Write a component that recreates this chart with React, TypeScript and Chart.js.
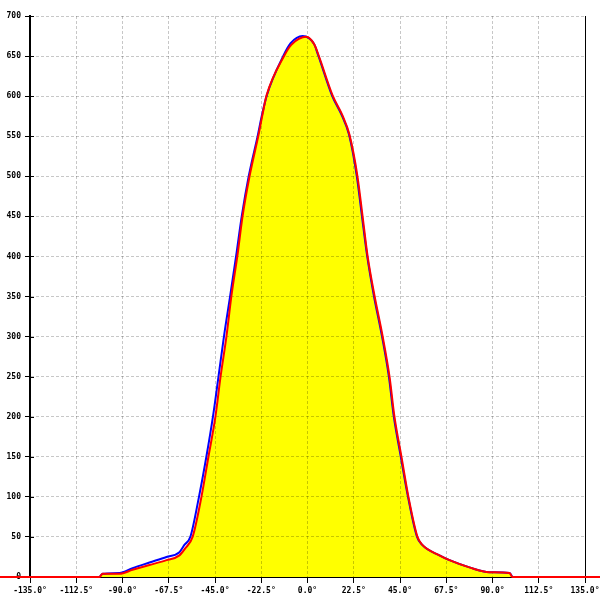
import React, { useEffect, useRef } from "react";
import { Chart, registerables } from "chart.js";

Chart.register(...registerables);

// Red series (angle in degrees, value)
const redAngles = [-150, -101.2, -99.7, -91.5, -85.1, -76.9, -68.6, -62.3, -59.4, -55.9, -51.6, -48.2, -44.8, -42.3, -39.4, -37.0, -34.1, -31.6, -28.2, -23.8, -21.9, -19.9, -11.2, -7.9, -0.5, 3.4, 5.4, 12.2, 17.0, 20.4, 24.3, 26.8, 29.2, 32.6, 36.5, 39.9, 42.3, 45.7, 49.1, 53.5, 55.9, 64.2, 69.1, 78.8, 88.5, 98.3, 99.7, 150];
const redValues = [0, 0, 4, 4, 9, 15, 21, 27, 36, 50, 100, 150, 200, 250, 301, 351, 401, 450, 500, 552, 577, 601, 651, 664, 674, 664, 651, 601, 576, 552, 500, 450, 401, 351, 301, 250, 200, 150, 100, 50, 40, 27, 21, 12, 6, 5, 0, 0];

// Blue series
const blueAngles = [-101.2, -99.7, -91.5, -85.1, -76.9, -68.6, -62.3, -59.9, -57.0, -52.8, -49.2, -46.0, -43.3, -40.6, -37.6, -34.7, -32.0, -28.6, -24.1, -22.1, -19.8, -11.6, -8.2, -2.4, 3.2, 5.2, 11.9, 16.7, 20.2, 24.0, 26.5, 29.0, 32.3, 36.2, 39.6, 42.0, 45.4, 48.9, 53.3, 55.8, 64.2, 69.1, 78.8, 88.5, 98.3, 99.7];
const blueValues = [0, 4, 5, 11, 18, 25, 31, 40, 50, 100, 150, 200, 250, 301, 351, 401, 450, 500, 552, 577, 601, 651, 666, 675, 665, 651, 601, 576, 552, 500, 450, 401, 351, 301, 250, 200, 150, 100, 50, 40, 27, 21, 12, 6, 5, 0];

const xMin = -135;
const xMax = 135;
const xStep = 22.5;
const yMin = 0;
const yMax = 700;
const yStep = 50;

const toPoints = (xs: number[], ys: number[]) => xs.map((x, i) => ({ x, y: ys[i] }));

const framePlugin = {
  id: "frame",
  beforeDatasetsDraw(chart: any) {
    const { ctx, chartArea, scales } = chart;
    const { left, right, top, bottom } = chartArea;
    ctx.save();
    ctx.strokeStyle = "#000";
    ctx.lineWidth = 1;
    ctx.beginPath();
    ctx.moveTo(Math.round(right) + 0.5, top);
    ctx.lineTo(Math.round(right) + 0.5, bottom);
    const y = scales.y;
    y.ticks.forEach((t: any) => {
      const py = Math.round(y.getPixelForValue(t.value)) + 0.5;
      ctx.moveTo(left, py);
      ctx.lineTo(left + 4, py);
    });
    ctx.stroke();
    ctx.restore();
  },
};

const tickFont = { family: "'DejaVu Sans Mono', monospace", size: 8, weight: "bold" as const };
const gridColor = "rgba(0,0,0,0.22)";

export default function App() {
  const ref = useRef<HTMLCanvasElement | null>(null);
  useEffect(() => {
    if (!ref.current) return;
    const chart = new Chart(ref.current, {
      type: "line",
      data: {
        datasets: [
          {
            label: "red",
            data: toPoints(redAngles, redValues),
            borderColor: "#ff0000",
            borderWidth: 2,
            pointRadius: 0,
            fill: false,
            cubicInterpolationMode: "monotone",
            clip: false as any,
            order: 0,
          },
          {
            label: "blue",
            data: toPoints(blueAngles, blueValues),
            borderColor: "#0000ff",
            borderWidth: 2,
            pointRadius: 0,
            fill: false,
            cubicInterpolationMode: "monotone",
            order: 1,
          },
          {
            label: "area",
            data: toPoints(redAngles, redValues),
            borderColor: "rgba(0,0,0,0)",
            borderWidth: 0,
            backgroundColor: "#ffff00",
            pointRadius: 0,
            fill: "origin",
            cubicInterpolationMode: "monotone",
            order: 2,
          },
        ],
      },
      options: {
        animation: false,
        responsive: false,
        maintainAspectRatio: false,
        layout: { padding: { top: 16, right: 15, left: 0, bottom: 0 } },
        plugins: {
          legend: { display: false },
          tooltip: { enabled: false },
          filler: { drawTime: "beforeDraw" } as any,
        },
        scales: {
          x: {
            type: "linear",
            min: xMin,
            max: xMax,
            afterFit: (s: any) => {
              s.height = 23;
              s.paddingRight = 0;
              s.paddingLeft = 0;
            },
            afterBuildTicks: (s: any) => {
              const t = [];
              for (let v = xMin; v <= xMax + 1e-9; v += xStep) t.push({ value: v });
              s.ticks = t;
            },
            ticks: {
              font: tickFont,
              color: "#000",
              padding: 3,
              maxRotation: 0,
              autoSkip: false,
              callback: (v: any) => Number(v).toFixed(1) + "°",
            },
            grid: {
              color: gridColor,
              tickColor: "#000",
              tickLength: 6,
              lineWidth: 1,
            },
            border: { display: true, color: "#000", width: 1, dash: [3, 2] },
          },
          y: {
            type: "linear",
            min: yMin,
            max: yMax,
            afterFit: (s: any) => {
              s.width = 30;
              s.paddingTop = 0;
              s.paddingBottom = 0;
            },
            ticks: {
              stepSize: yStep,
              font: tickFont,
              color: "#000",
              padding: 4,
              autoSkip: false,
            },
            grid: {
              color: gridColor,
              tickColor: "#000",
              tickLength: 5,
              lineWidth: 1,
            },
            border: { display: true, color: "#000", width: 2, dash: [3, 2] },
          },
        },
      },
      plugins: [framePlugin],
    });
    return () => chart.destroy();
  }, []);
  return (
    <div style={{ position: "absolute", left: 0, top: 0, width: 600, height: 600, background: "#fff" }}>
      <canvas ref={ref} width={600} height={600} style={{ display: "block", width: 600, height: 600 }} />
    </div>
  );
}
